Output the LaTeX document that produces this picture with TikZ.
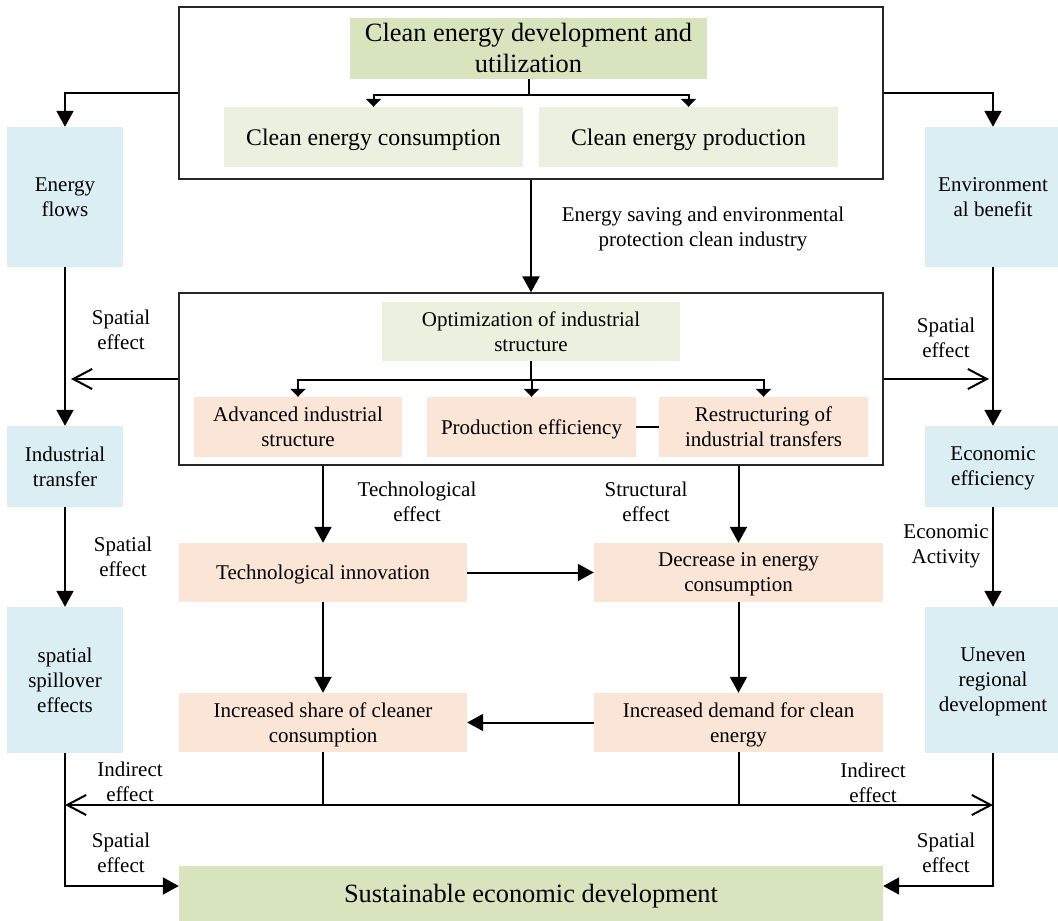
\documentclass[tikz,border=0pt]{standalone}
\usepackage{fontspec}
\setmainfont{Liberation Serif}
\usetikzlibrary{arrows.meta}
\definecolor{darkgreen}{RGB}{215,228,189}
\definecolor{palegreen}{RGB}{235,241,222}
\definecolor{paleblue}{RGB}{218,238,243}
\definecolor{peach}{RGB}{251,229,214}

\begin{document}
\begin{tikzpicture}
				[x=1pt,y=-1pt,
				box/.style={rectangle,inner sep=0pt,align=center,text depth=0pt,font=\fontsize{21}{25}\selectfont},
				frame/.style={rectangle,draw=black!85,line width=1.3pt,inner sep=0pt,minimum width=704pt,minimum height=172pt},
				sidebox/.style={box,fill=paleblue},
				greenbox/.style={box,fill=palegreen},
				peachbox/.style={box,fill=peach},
				lbl/.style={align=center,inner sep=0pt,text depth=0pt,font=\fontsize{21}{25}\selectfont},
				arr/.style={-{Triangle[length=16pt,width=17pt]},line width=2pt},
				smallarr/.style={-{Triangle[length=8pt,width=15pt]},line width=2pt},
				openarr/.style={-{Straight Barb[length=19pt,width=20pt]},line width=2pt},
				bothopen/.style={{Straight Barb[length=19pt,width=20pt]}-{Straight Barb[length=19pt,width=20pt]},line width=2pt}]
				\useasboundingbox (0,0) rectangle (1058,921);
				
				\node[frame] (topframe) at (531,93) {};
				\node[frame] (midframe) at (531,379) {};
				
				\node[box,fill=darkgreen,minimum width=357pt,minimum height=61pt,font=\fontsize{26.4}{31}\selectfont] (dev) at (528.5,48) {Clean energy development and\\utilization};
				\node[greenbox,minimum width=299pt,minimum height=60pt,font=\fontsize{23.8}{28}\selectfont] (cons) at (373.5,137) {Clean energy consumption};
				\node[greenbox,minimum width=299pt,minimum height=60pt,font=\fontsize{23.8}{28}\selectfont] (prod) at (688.5,137) {Clean energy production};
				
				\node[sidebox,minimum width=116pt,minimum height=140pt] (flows) at (65,197) {Energy\\flows};
				\node[sidebox,minimum width=136pt,minimum height=140pt] (envben) at (993,197) {Environment\\al benefit};
				\node[sidebox,minimum width=116pt,minimum height=81pt] (indtr) at (65,466.5) {Industrial\\transfer};
				\node[sidebox,minimum width=136pt,minimum height=81pt] (econeff) at (993,466.5) {Economic\\efficiency};
				\node[sidebox,minimum width=116pt,minimum height=146pt] (spill) at (65,680) {spatial\\spillover\\effects};
				\node[sidebox,minimum width=136pt,minimum height=146pt] (uneven) at (993,680) {Uneven\\regional\\development};
				
				\node[greenbox,minimum width=298pt,minimum height=59pt] (opt) at (531,331.5) {Optimization of industrial\\structure};
				\node[peachbox,minimum width=208pt,minimum height=60pt] (adv) at (298,427) {Advanced industrial\\structure};
				\node[peachbox,minimum width=209pt,minimum height=60pt] (peff) at (531.5,427) {Production efficiency};
				\node[peachbox,minimum width=209pt,minimum height=60pt] (restr) at (763.5,427) {Restructuring of\\industrial transfers};
				
				\node[peachbox,minimum width=288pt,minimum height=59pt] (techinn) at (323,572.5) {Technological innovation};
				\node[peachbox,minimum width=289pt,minimum height=59pt] (decr) at (738.5,572.5) {Decrease in energy\\consumption};
				\node[peachbox,minimum width=288pt,minimum height=59pt] (share) at (323,722.5) {Increased share of cleaner\\consumption};
				\node[peachbox,minimum width=289pt,minimum height=59pt] (demand) at (738.5,722.5) {Increased demand for clean\\energy};
				
				\node[box,fill=darkgreen,minimum width=704pt,minimum height=55pt,font=\fontsize{26.4}{31}\selectfont] (sust) at (531,893.5) {Sustainable economic development};
				
				\coordinate (br1) at (528.5,95);
				\coordinate (br2) at (531,380);
				\coordinate (lhit) at (71,379);
				\coordinate (rhit) at (989,379);
				\coordinate (busl) at (65,805);
				\coordinate (busr) at (993,805);
				
				\node[lbl] (saving) at (703,227) {Energy saving and environmental\\protection clean industry};
				\node[lbl] (sp1) at (121,329.5) {Spatial\\effect};
				\node[lbl] (sp2) at (946,337.5) {Spatial\\effect};
				\node[lbl] (sp3) at (123,556.5) {Spatial\\effect};
				\node[lbl] (ecoact) at (946,544.5) {Economic\\Activity};
				\node[lbl] (techeff) at (417,501.5) {Technological\\effect};
				\node[lbl] (struceff) at (646,501.5) {Structural\\effect};
				\node[lbl] (ind1) at (130,781.5) {Indirect\\effect};
				\node[lbl] (ind2) at (873,782.5) {Indirect\\effect};
				\node[lbl] (sp4) at (121,852.5) {Spatial\\effect};
				\node[lbl] (sp5) at (946,852.5) {Spatial\\effect};
				
				\draw[line width=2pt] (dev) -- (br1);
				\draw[smallarr] (br1) -| (cons);
				\draw[smallarr] (br1) -| (prod);
				\draw[line width=2pt] (opt) -- (br2);
				\foreach \to in {adv,peff,restr}
				\draw[smallarr] (br2) -| (\to);
				\draw[line width=2pt] (peff) -- (restr);
				
				\draw[arr] (topframe.west) -| (flows);
				\draw[arr] (topframe.east) -| (envben);
				\draw[arr] (topframe) -- (midframe);
				\draw[openarr] (midframe.west) -- (lhit);
				\draw[openarr] (midframe.east) -- (rhit);
				
				\foreach \from/\to in {flows/indtr,indtr/spill,envben/econeff,econeff/uneven,techinn/share,decr/demand,techinn/decr,demand/share}
				\draw[arr] (\from) -- (\to);
				\draw[arr] (techinn.north |- midframe.south) -- (techinn);
				\draw[arr] (decr.north |- midframe.south) -- (decr);
				
				\draw[line width=2pt] (share) -- (share |- busl);
				\draw[line width=2pt] (demand) -- (demand |- busl);
				\draw[bothopen] (busl) -- (busr);
				\draw[arr] (spill) |- ([yshift=7.5pt]sust.west);
				\draw[arr] (uneven) |- ([yshift=7.5pt]sust.east);
				\end{tikzpicture}
\end{document}
